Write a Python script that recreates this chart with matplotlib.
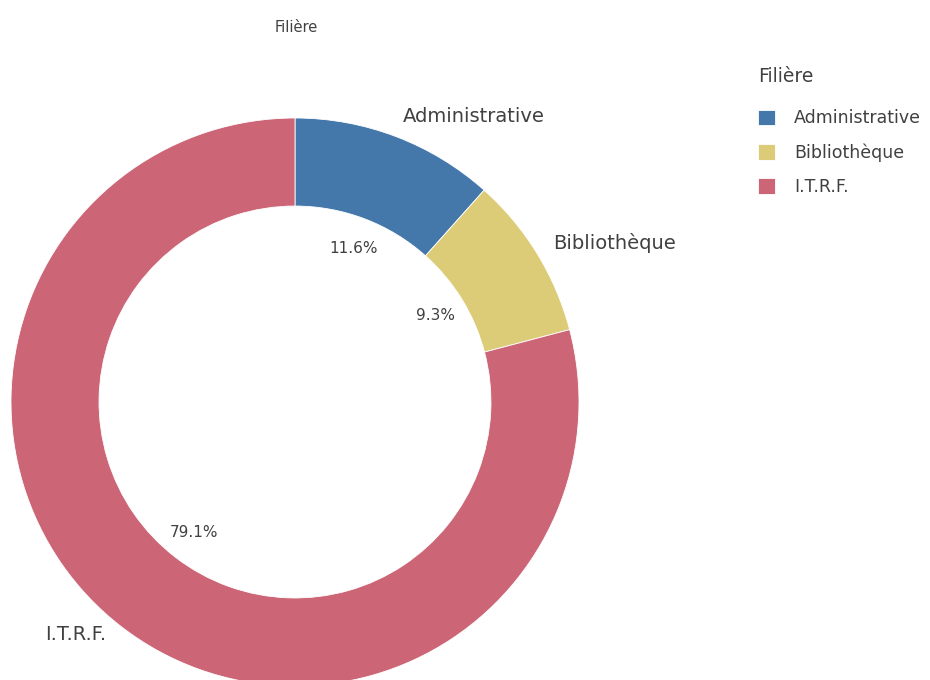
import matplotlib
matplotlib.use('Agg')
import matplotlib.pyplot as plt

# ── data ────────────────────────────────────────────────────────────────────
categories = ['Administrative', 'Bibliothèque', 'I.T.R.F.']
shares = [11.6, 9.3, 79.1]
colors = ['#4477AA', '#DDCC77', '#CC6677']

TXT = '#404040'
plt.rcParams['font.family'] = ['DejaVu Sans']

W, H = 930, 680
fig = plt.figure(figsize=(W / 100, H / 100), dpi=100)
fig.patch.set_facecolor('white')
ax = fig.add_axes([0, 0, 1, 1])

# pie centre and radius in pixel units
cx, cy, R = 295, H - 402, 284

wedges, _, autotexts = ax.pie(
    shares, colors=colors, startangle=90, counterclock=False,
    center=(cx, cy), radius=R, autopct='%.1f%%', pctdistance=0.58,
    wedgeprops=dict(width=R * 0.31, linewidth=0.6, edgecolor='white'),
    textprops=dict(color=TXT, fontsize=11))

ax.set_xlim(0, W)
ax.set_ylim(0, H)
ax.set_aspect('equal')
ax.axis('off')

# outside slice labels
label_pos = [(403, H - 117), (553, H - 243), (45, H - 635)]
for name, (x, y) in zip(categories, label_pos):
    ax.text(x, y, name, ha='left', va='center', fontsize=14, color=TXT)

# title
ax.text(296, H - 28, 'Filière', ha='center', va='center', fontsize=10.5,
        color=TXT)

leg = fig.legend(wedges, categories, title='Filière', loc='upper left',
                 bbox_to_anchor=(742 / W, 1 - 51 / H), frameon=False,
                 fontsize=12.5, title_fontsize=13.5, handlelength=1.0,
                 handleheight=1.0, handletextpad=1.1, labelspacing=0.93)
leg._legend_box.align = 'left'
leg._legend_box.sep = 17
leg.get_title().set_color(TXT)
for t in leg.get_texts():
    t.set_color(TXT)

fig.savefig('out.png', dpi=100, facecolor='white')
